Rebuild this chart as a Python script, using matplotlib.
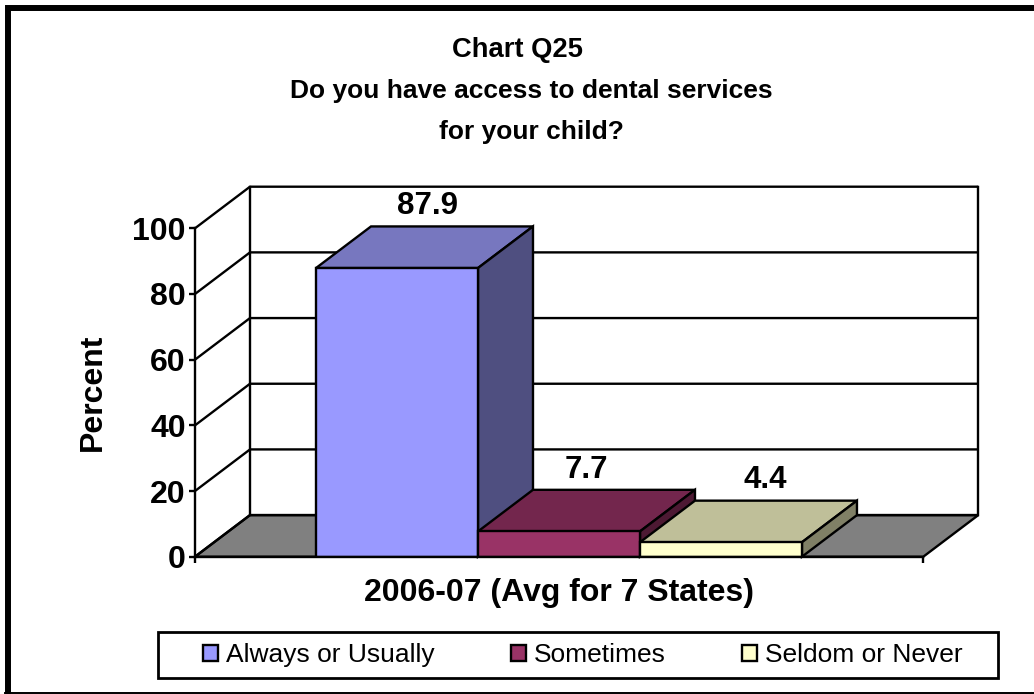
import matplotlib
matplotlib.use('Agg')
import matplotlib.pyplot as plt
from matplotlib.lines import Line2D
from matplotlib.patches import Polygon, Rectangle

plt.rcParams['font.family'] = ['Liberation Sans', 'DejaVu Sans']

# Data
categories = ['Always or Usually', 'Sometimes', 'Seldom or Never']
values = [87.9, 7.7, 4.4]
y_ticks = [0, 20, 40, 60, 80, 100]

front_colors = ['#9999FF', '#993366', '#FFFFCC']
top_colors = ['#7777BF', '#73264D', '#BFBF99']
side_colors = ['#4F4F80', '#4D1933', '#808066']

W, H = 1034, 694
LW = 1.7

fig = plt.figure(figsize=(W / 100, H / 100), dpi=100, facecolor='white')

# axes box = front plane of the 3D chart
ax = fig.add_axes([195 / W, (H - 556.7) / H, 728.3 / W, 328.4 / H])
ax.set_xlim(-1.247, 3.249)
ax.set_ylim(0, 100)
ax.set_facecolor('none')

# depth of the fake 3D box, in data units
dx = 55 / 162
dy = 41.6 / 3.284
x0, x1 = ax.get_xlim()


def face(pts, color, z):
    ax.add_patch(Polygon(pts, closed=True, facecolor=color, edgecolor='black',
                         linewidth=LW, joinstyle='miter', clip_on=False, zorder=z))


# floor
face([(x0, 0), (x1, 0), (x1 + dx, dy), (x0 + dx, dy)], '#808080', 1)

# walls and grid
for t in y_ticks:
    ax.plot([x0, x0 + dx, x1 + dx], [t, t + dy, t + dy], color='black', lw=LW,
            clip_on=False, zorder=1.5, solid_capstyle='butt')
ax.plot([x0 + dx, x0 + dx], [dy, 100 + dy], color='black', lw=LW, clip_on=False, zorder=1.5)
ax.plot([x1 + dx, x1 + dx], [dy, 100 + dy], color='black', lw=LW, clip_on=False, zorder=1.5)

# bars: front faces from ax.bar, top and side faces sheared back
# later bars sit over the side of the earlier ones
label_shift = [0.02, 0.0, 0.105]
positions = list(range(len(values)))
handles = []
for i, v in enumerate(values):
    z = 3 + i
    left, right = i - 0.5, i + 0.5
    face([(left, v), (right, v), (right + dx, v + dy), (left + dx, v + dy)], top_colors[i], z)
    face([(right, 0), (right + dx, dy), (right + dx, v + dy), (right, v)], side_colors[i], z)
    b = ax.bar(positions[i], v, width=1, color=front_colors[i], edgecolor='black',
               linewidth=LW, zorder=z + 0.5, label=categories[i])
    handles.append(b)
    ax.text(i + dx / 2 + label_shift[i], v + dy + 3.7, f'{v:.1f}', ha='center', va='baseline',
            fontsize=22.5, fontweight='bold', zorder=10)

# axes, ticks
for s in ['top', 'right']:
    ax.spines[s].set_visible(False)
for s in ['left', 'bottom']:
    ax.spines[s].set_linewidth(LW)
    ax.spines[s].set_zorder(9)
ax.set_yticks(y_ticks)
ax.set_xticks([x0, x1])
ax.set_xticklabels(['', ''])
ax.tick_params(axis='both', length=4.5, width=LW, color='black')
ax.tick_params(axis='y', labelsize=23, pad=2)
for lab in ax.get_yticklabels():
    lab.set_fontweight('bold')
ax.set_ylabel('Percent', fontsize=23, fontweight='bold', labelpad=18)
ax.set_xlabel('2006-07 (Avg for 7 States)', fontsize=23, fontweight='bold', labelpad=7)

# titles
fig.text(517 / W, 1 - 50 / H, 'Chart Q25', ha='center', va='center', fontsize=19.7, fontweight='bold')
fig.text(531 / W, 1 - 91 / H, 'Do you have access to dental services', ha='center', va='center',
         fontsize=19, fontweight='bold')
fig.text(531 / W, 1 - 132 / H, 'for your child?', ha='center', va='center',
         fontsize=19, fontweight='bold')

# legend with its own frame
fig.add_artist(Rectangle((158 / W, 1 - 678 / H), 840 / W, 46 / H, transform=fig.transFigure,
                         facecolor='white', edgecolor='black', linewidth=2.0))
leg = fig.legend(handles=handles, loc='center', bbox_to_anchor=(583 / W, 1 - 655 / H), ncols=3,
                 frameon=False, fontsize=19, handlelength=0.57, handleheight=0.57,
                 handletextpad=0.3, columnspacing=2.9, borderpad=0)

# outer border: top and left heavy, thin one at the bottom, none on the right
fig.add_artist(Line2D([8 / W, 8 / W, 1], [0, 1 - 8 / H, 1 - 8 / H], transform=fig.transFigure,
                      color='black', linewidth=4.3, solid_joinstyle='miter'))
fig.add_artist(Line2D([5 / W, 1], [1 / H, 1 / H], transform=fig.transFigure,
                      color='black', linewidth=1.4))

fig.savefig('out.png', dpi=100)
